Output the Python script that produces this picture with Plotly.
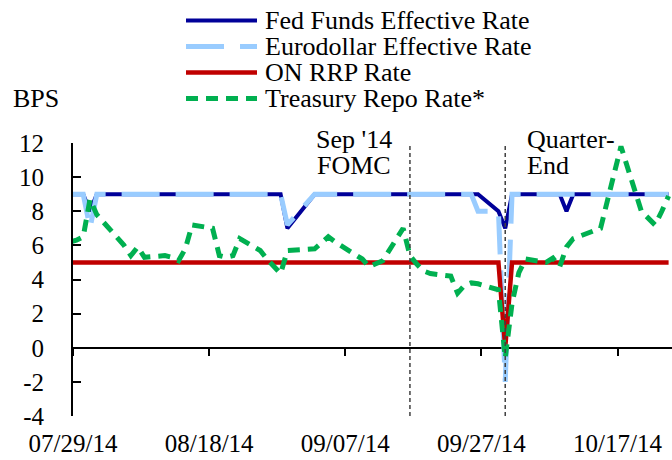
import pandas as pd
import plotly.graph_objects as go

# ---------------- data (bps) ----------------
dates = [
    "2014-07-28", "2014-07-29", "2014-07-30", "2014-07-31", "2014-08-01",
    "2014-08-04", "2014-08-05", "2014-08-06", "2014-08-07", "2014-08-08",
    "2014-08-11", "2014-08-12", "2014-08-13", "2014-08-14", "2014-08-15",
    "2014-08-18", "2014-08-19", "2014-08-20", "2014-08-21", "2014-08-22",
    "2014-08-25", "2014-08-26", "2014-08-27", "2014-08-28", "2014-08-29",
    "2014-09-02", "2014-09-03", "2014-09-04", "2014-09-05",
    "2014-09-08", "2014-09-09", "2014-09-10", "2014-09-11", "2014-09-12",
    "2014-09-15", "2014-09-16", "2014-09-17", "2014-09-18", "2014-09-19",
    "2014-09-22", "2014-09-23", "2014-09-24", "2014-09-25", "2014-09-26",
    "2014-09-29", "2014-09-30", "2014-10-01", "2014-10-02", "2014-10-03",
    "2014-10-06", "2014-10-07", "2014-10-08", "2014-10-09", "2014-10-10",
    "2014-10-14", "2014-10-15", "2014-10-16", "2014-10-17",
    "2014-10-20", "2014-10-21", "2014-10-22", "2014-10-23", "2014-10-24",
]

fed_funds = [
    9, 9, 9, 8, 9,
    9, 9, 9, 9, 9,
    9, 9, 9, 9, 9,
    9, 9, 9, 9, 9,
    9, 9, 9, 9, 7,
    9, 9, 9, 9,
    9, 9, 9, 9, 9,
    9, 9, 9, 9, 9,
    9, 9, 9, 9, 9,
    8, 7, 9, 9, 9,
    9, 9, 9, 8, 9,
    9, 9, 9, 9,
    9, 9, 9, 9, 9,
]

eurodollar = [
    9, 9, 9, 7, 9,
    9, 9, 9, 9, 9,
    9, 9, 9, 9, 9,
    9, 9, 9, 9, 9,
    9, 9, 9, 9, 7.2,
    9, 9, 9, 9,
    9, 9, 9, 9, 9,
    9, 9, 9, 9, 9,
    9, 9, 9, 9, 8,
    8, -2, 9, 9, 9,
    9, 9, 9, 9, 9,
    9, 9, 9, 9,
    9, 9, 9, 9, 9,
]

on_rrp = [
    5, 5, 5, 5, 5,
    5, 5, 5, 5, 5,
    5, 5, 5, 5, 5,
    5, 5, 5, 5, 5,
    5, 5, 5, 5, 5,
    5, 5, 5, 5,
    5, 5, 5, 5, 5,
    5, 5, 5, 5, 5,
    5, 5, 5, 5, 5,
    5, 0, 5, 5, 5,
    5, 5, 5, 5, 5,
    5, 5, 5, 5,
    5, 5, 5, 5, 5,
]

treasury_repo = [
    6.2, 6.3, 6.5, 8.7, 7.8,
    6.4, 6.0, 5.4, 5.9, 5.3,
    5.4, 5.3, 5.1, 5.8, 7.2,
    7.0, 5.4, 5.3, 5.4, 6.4,
    5.7, 5.2, 4.8, 4.35, 5.7,
    5.8, 6.15, 6.5, 6.2,
    5.4, 5.2, 4.75, 4.9, 5.1,
    7.0, 5.4, 4.9, 4.5, 4.35,
    4.2, 3.2, 3.65, 3.8, 3.75,
    3.4, -0.6, 2.6, 4.4, 5.2,
    5.0, 5.25, 4.75, 5.9, 6.4,
    7.0, 8.7, 10.3, 11.8,
    8.0, 7.6, 7.2, 8.0, 8.9,
]

series_names = ["Fed Funds Effective Rate", "Eurodollar Effective Rate",
                "ON RRP Rate", "Treasury Repo Rate*"]
tick_dates = ["2014-07-29", "2014-08-18", "2014-09-07", "2014-09-27", "2014-10-17"]
tick_labels = ["07/29/14", "08/18/14", "09/07/14", "09/27/14", "10/17/14"]
y_ticks = [-4, -2, 0, 2, 4, 6, 8, 10, 12]
y_tick_labels = ["-4", "-2", "0", "2", "4", "6", "8", "10", "12"]
event_dates = ["2014-09-16", "2014-09-30"]
event_labels = [["Sep '14", "FOMC"], ["Quarter-", "End"]]
y_label = "BPS"

# ---------------- styling ----------------
FONT = "'Liberation Serif', 'Times New Roman', Tinos, Times, 'Nimbus Roman', 'DejaVu Serif', serif"
styles = [
    dict(color="#000099", width=4, dash="solid"),
    dict(color="#99CCFF", width=5, dash="38px,16px"),
    dict(color="#C00000", width=4.5, dash="solid"),
    dict(color="#00B050", width=5, dash="12px,8px"),
]
values = [fed_funds, eurodollar, on_rrp, treasury_repo]

half_day = pd.Timedelta(hours=12)
x_start = pd.Timestamp(tick_dates[0]) - half_day
x_end = pd.Timestamp(dates[-1]) + half_day
tickvals = [pd.Timestamp(t) - half_day for t in tick_dates]

fig = go.Figure()
for name, vals, st in zip(series_names, values, styles):
    fig.add_trace(go.Scatter(x=dates, y=vals, name=name, mode="lines",
                             line=dict(color=st["color"], width=st["width"], dash=st["dash"]),
                             showlegend=False))

# helper trace so the tick-only axis at y=0 is rendered
fig.add_trace(go.Scatter(x=dates, y=on_rrp, xaxis="x2", mode="none",
                         showlegend=False, hoverinfo="skip"))

L, R, T, B = 73, 0, 143, 44
W, H = 672, 460
pw, ph = W - L - R, H - T - B

def px_x(p):
    return (p - L) / pw

def px_y(p):
    return (H - B - p) / ph

shapes = []
annotations = []
for d in event_dates:
    shapes.append(dict(type="line", xref="x", yref="paper", x0=d, x1=d, y0=0, y1=1,
                       line=dict(color="#404040", width=1.5, dash="4px,3px"), layer="above"))
annotations += [
    dict(text=event_labels[0][0], x=px_x(354), y=px_y(139), xanchor="center"),
    dict(text=event_labels[0][1], x=px_x(354), y=px_y(165), xanchor="center"),
    dict(text=event_labels[1][0], x=px_x(525), y=px_y(139), xanchor="left"),
    dict(text=event_labels[1][1], x=px_x(525), y=px_y(165), xanchor="left"),
]
rows = [20.5, 46.5, 72.5, 98.5]
for name, st, ry in zip(series_names, styles, rows):
    shapes.append(dict(type="line", xref="paper", yref="paper",
                       x0=px_x(186), x1=px_x(257), y0=px_y(ry), y1=px_y(ry),
                       line=dict(color=st["color"], width=st["width"], dash=st["dash"])))
    annotations.append(dict(text=name, x=px_x(263), y=px_y(ry), xanchor="left"))
annotations.append(dict(text=y_label, x=px_x(11), y=px_y(99), xanchor="left"))

for a in annotations:
    a.update(xref="paper", yref="paper", yanchor="middle", showarrow=False,
             font=dict(family=FONT, size=26, color="black"))

axis_common = dict(type="date", range=[x_start, x_end], showgrid=False, zeroline=False,
                   tickvals=tickvals)

fig.update_layout(
    width=W, height=H,
    margin=dict(l=L, r=R, t=T, b=B, pad=0),
    paper_bgcolor="white", plot_bgcolor="white",
    font=dict(family=FONT, size=25, color="black"),
    showlegend=False,
    xaxis=dict(**axis_common, ticktext=tick_labels, ticks="", showline=False,
               ticklabelstandoff=10, automargin=False,
               tickfont=dict(family=FONT, size=25, color="black")),
    xaxis2=dict(**axis_common, overlaying="x", anchor="free", position=4 / 16,
                ticks="outside", ticklen=7, tickwidth=2, tickcolor="black",
                showticklabels=False, showline=False),
    yaxis=dict(range=[-4, 12], tickvals=y_ticks, ticktext=y_tick_labels,
               ticks="inside", ticklen=8, tickwidth=2, automargin=False,
               tickcolor="black", showline=True, linecolor="black", linewidth=2,
               zeroline=True, zerolinecolor="black", zerolinewidth=2, showgrid=False,
               ticklabelstandoff=22, tickfont=dict(family=FONT, size=25, color="black")),
    shapes=shapes,
    annotations=annotations,
)

fig.write_html("out.html", config={"displayModeBar": False},
               post_script="document.body.style.margin='0';")
